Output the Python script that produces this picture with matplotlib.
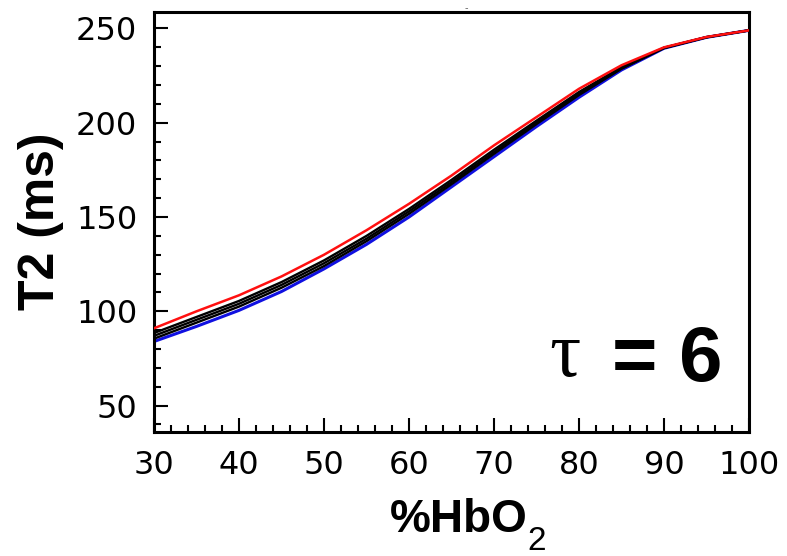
import matplotlib
matplotlib.use("Agg")
import matplotlib.pyplot as plt
from matplotlib.ticker import MultipleLocator

# Data
hbo2 = [30, 35, 40, 45, 50, 55, 60, 65, 70, 75, 80, 85, 90, 95, 100]
t2_red = [91, 100, 108.5, 118.5, 130, 143, 157, 172, 188, 203, 218, 230.5, 240, 245.5, 249]
t2_black1 = [88.5, 97, 105.5, 115.5, 127, 140, 154.3, 169.7, 185.7, 201.1, 216.3, 229.5, 239.8, 245.4, 249]
t2_black2 = [87, 95.5, 104, 114, 125.5, 138.5, 153, 168.5, 184.5, 200.2, 215.5, 229, 239.7, 245.4, 249]
t2_black3 = [85.5, 94, 102.5, 112.5, 124, 137.2, 151.7, 167.4, 183.5, 199.3, 214.7, 228.6, 239.6, 245.3, 249]
t2_blue = [84, 92, 100.5, 110.5, 122.5, 135.5, 150, 166, 182, 198, 213.5, 228, 239.5, 245.3, 249]

x_ticks = [30, 40, 50, 60, 70, 80, 90, 100]
y_ticks = [50, 100, 150, 200, 250]

fig = plt.figure(figsize=(7.87, 5.56), dpi=100)
ax = fig.add_axes([154/787, 1 - 432/556, (749-154)/787, (432-11.5)/556])

ax.plot(hbo2, t2_blue, color="#1010e0", lw=2.2, zorder=2)
for yb in (t2_black3, t2_black2, t2_black1):
    ax.plot(hbo2, yb, color="black", lw=1.7, zorder=3)
ax.plot(hbo2, t2_red, color="#ff1010", lw=1.8, zorder=4)

ax.set_xlim(30, 100)
ax.set_ylim(36, 259)
ax.set_xticks(x_ticks)
ax.set_yticks(y_ticks)
ax.xaxis.set_minor_locator(MultipleLocator(2))
ax.yaxis.set_minor_locator(MultipleLocator(10))
ax.tick_params(which="both", direction="in", top=False, right=False, width=1.5, color="black")
ax.tick_params(which="major", length=10)
ax.tick_params(which="minor", length=5)
ax.tick_params(axis="x", which="major", pad=13, labelsize=23)
ax.tick_params(axis="y", which="major", pad=12, labelsize=23)
for s in ax.spines.values():
    s.set_linewidth(2.2)

ax.set_ylabel("T2 (ms)", fontsize=36, fontweight="bold", family="Liberation Sans", labelpad=9)

# x-axis label: "%HbO" with a large, low subscript "2"
fig.text(390/787, 1 - 532/556, "%HbO", fontsize=33, fontweight="bold",
         family="Liberation Sans", ha="left", va="baseline")
fig.text(527/787, 1 - 550/556, "2", fontsize=24, family="Liberation Sans",
         ha="left", va="baseline")

fig.text(549/787, 1 - 376/556, "τ", fontsize=56, family="Liberation Serif",
         ha="left", va="baseline")
fig.text(612/787, 1 - 381/556, "= 6", fontsize=56, fontweight="bold",
         family="Liberation Sans", ha="left", va="baseline")
fig.text(466/787, 1 - 8/556, "-", fontsize=7, color="#666666", ha="center", va="center")

fig.savefig("out.png", dpi=100)
